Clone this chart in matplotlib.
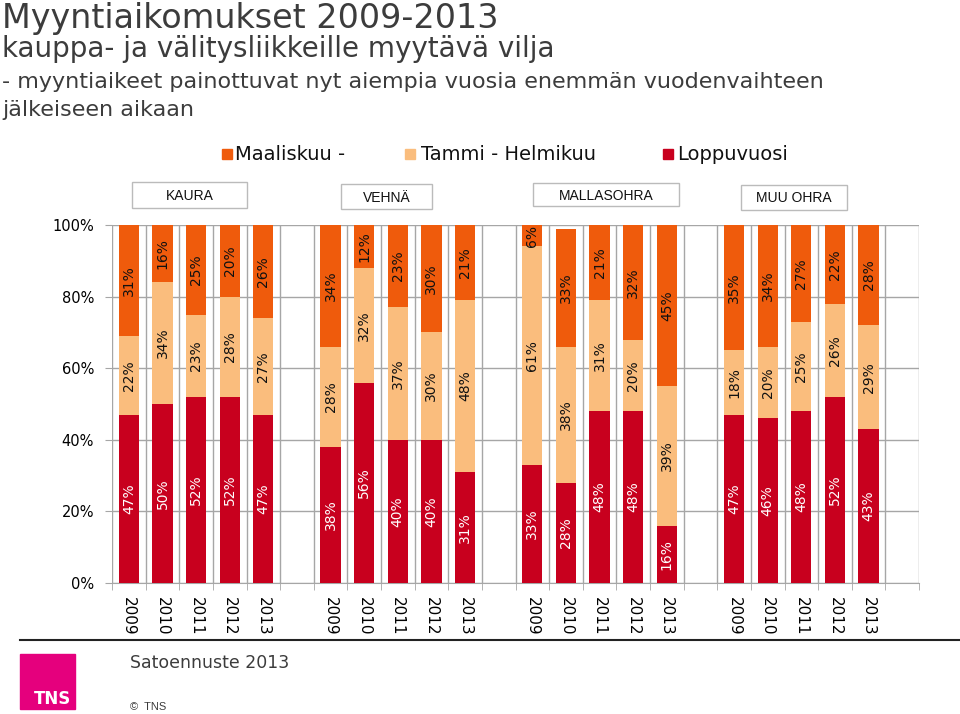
import numpy as np
import matplotlib
matplotlib.use("Agg")
import matplotlib.pyplot as plt
from matplotlib.patches import Rectangle

# Data: share of sales per period (%), bottom -> top
groups = ["KAURA", "VEHNÄ", "MALLASOHRA", "MUU OHRA"]
years = ["2009", "2010", "2011", "2012", "2013"]
series = ["Loppuvuosi", "Tammi - Helmikuu", "Maaliskuu -"]

loppuvuosi = [47, 50, 52, 52, 47,
              38, 56, 40, 40, 31,
              33, 28, 48, 48, 16,
              47, 46, 48, 52, 43]
tammi_helmi = [22, 34, 23, 28, 27,
               28, 32, 37, 30, 48,
               61, 38, 31, 20, 39,
               18, 20, 25, 26, 29]
maalis = [31, 16, 25, 20, 26,
          34, 12, 23, 30, 21,
          6, 33, 21, 32, 45,
          35, 34, 27, 22, 28]

col_top = "#EF5B0C"
col_mid = "#FABD7D"
col_bot = "#C8001E"
grid_col = "#A6A6A6"

W, H = 960, 714


def px(x, y):
    return x / W, 1 - y / H


fig = plt.figure(figsize=(9.6, 7.14), dpi=100)
ax = fig.add_axes([112 / W, 1 - 583 / H, (919 - 112) / W, (583 - 225) / H])

# positions: 5 bars per group, one empty slot between groups
xpos = np.array([g * 6 + i for g in range(len(groups)) for i in range(len(years))])
bot = np.array(loppuvuosi) / 100
mid = np.array(tammi_helmi) / 100
top = np.array(maalis) / 100

bw = 0.6
ax.bar(xpos, bot, bw, color=col_bot, zorder=3)
ax.bar(xpos, mid, bw, bottom=bot, color=col_mid, zorder=3)
ax.bar(xpos, top, bw, bottom=bot + mid, color=col_top, zorder=3)

for x, b, m, t in zip(xpos, loppuvuosi, tammi_helmi, maalis):
    ax.text(x, b / 200, f"{b}%", rotation=90, ha="center", va="center",
            fontsize=10, color="white", zorder=4)
    ax.text(x, (b + m / 2) / 100, f"{m}%", rotation=90, ha="center", va="center",
            fontsize=10, color="#111111", zorder=4)
    ax.text(x, (b + m + t / 2) / 100, f"{t}%", rotation=90, ha="center", va="center",
            fontsize=10, color="#111111", zorder=4)

ax.set_xlim(-0.5, 23.5)
ax.set_ylim(0, 1)
ax.set_yticks(np.arange(0, 1.01, 0.2))
ax.set_yticklabels([f"{int(round(v * 100))}%" for v in np.arange(0, 1.01, 0.2)], fontsize=10.5)
ax.set_xticks(xpos)
ax.set_xticklabels(years * len(groups), rotation=270, fontsize=11)
ax.set_xticks(np.arange(-0.5, 24, 1), minor=True)
ax.tick_params(axis="x", which="major", length=0, pad=10)
ax.tick_params(axis="x", which="minor", length=5, color=grid_col)
ax.tick_params(axis="y", length=5, color=grid_col, pad=8)
ax.grid(True, axis="y", which="major", color=grid_col, lw=1, zorder=0)
ax.grid(True, axis="x", which="minor", color=grid_col, lw=1, zorder=0)
for s in ["top", "right", "left"]:
    ax.spines[s].set_visible(False)
ax.spines["bottom"].set_color(grid_col)

# titles
tc = "#3C3C3C"
fig.text(*px(2, 28), "Myyntiaikomukset 2009-2013", fontsize=24, color=tc, va="baseline")
fig.text(*px(2, 57), "kauppa- ja välitysliikkeille myytävä vilja", fontsize=20, color=tc, va="baseline")
fig.text(*px(2, 88), "- myyntiaikeet painottuvat nyt aiempia vuosia enemmän vuodenvaihteen",
         fontsize=16, color=tc, va="baseline")
fig.text(*px(2, 116), "jälkeiseen aikaan", fontsize=16, color=tc, va="baseline")

# legend
for (sx, tx, lab, c) in [(222, 235, "Maaliskuu -", col_top),
                         (405, 421, "Tammi - Helmikuu", col_mid),
                         (663, 677, "Loppuvuosi", col_bot)]:
    fig.add_artist(Rectangle(px(sx, 159), 10 / W, 10 / H, transform=fig.transFigure,
                             color=c))
    fig.text(*px(tx, 160), lab, fontsize=14, color="#111111", va="baseline")

# group boxes
for (x0, x1, y0, y1, lab) in [(132, 247, 182, 208, "KAURA"),
                              (341, 432, 184, 209, "VEHNÄ"),
                              (533, 679, 183, 206, "MALLASOHRA"),
                              (741, 847, 185, 210, "MUU OHRA")]:
    fig.add_artist(Rectangle(px(x0, y1), (x1 - x0) / W, (y1 - y0) / H,
                             transform=fig.transFigure, facecolor="white",
                             edgecolor="#BBBBBB", lw=1))
    fig.text(*px((x0 + x1) / 2, (y0 + y1) / 2 + 1), lab, ha="center", va="center",
             fontsize=10, family="Liberation Sans", color="#111111")

# footer
fig.add_artist(plt.Line2D([20 / W, 1], [1 - 640 / H] * 2, transform=fig.transFigure,
                          color="#222222", lw=1.5))
fig.add_artist(Rectangle(px(20, 709), 55 / W, 55 / H, transform=fig.transFigure,
                         color="#E5007D"))
fig.text(*px(34, 704), "TNS", fontsize=12, fontweight="bold", color="white", va="baseline")
fig.text(*px(130, 668), "Satoennuste 2013", fontsize=12.5, color=tc, va="baseline")
fig.text(*px(130, 710), "©  TNS", fontsize=8, family="Liberation Sans", color=tc, va="baseline")

fig.savefig("out.png", dpi=100)
